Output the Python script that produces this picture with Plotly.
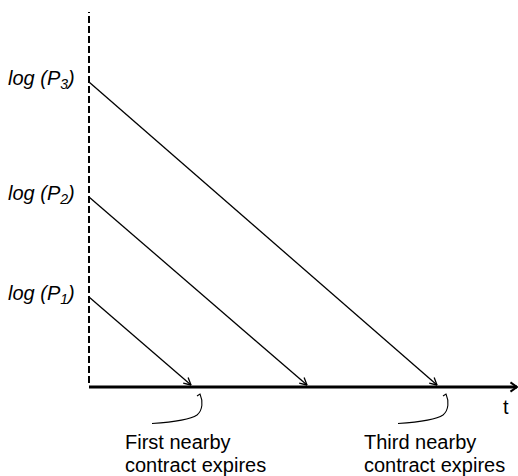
import math
import plotly.graph_objects as go

# ---- data (abstract units: time t on x, log price on y) ----
levels = [90, 190, 305]            # log(P1), log(P2), log(P3)
expiry = [102, 218, 348]           # time when each contract's line reaches the axis
labels = ["<i>log (P<sub>1</sub>)</i>", "<i>log (P<sub>2</sub>)</i>", "<i>log (P<sub>3</sub>)</i>"]
note_idx = [0, 2]
note_line1 = ["First nearby", "Third nearby"]
note_line2 = ["contract expires", "contract expires"]
t_max = 428
y_top = 375

FONT = "Liberation Sans, Arial, Helvetica, sans-serif"
note_text_shift = [-68, -75]       # layout: text left edge relative to expiry
fig = go.Figure()


def arrow_head(x0, y0, x1, y1, length, half_angle_deg):
    ang = math.atan2(y1 - y0, x1 - x0)
    xs, ys = [], []
    for s in (1, -1):
        a = ang + math.pi + s * math.radians(half_angle_deg)
        xs.append(x1 + length * math.cos(a))
        ys.append(y1 + length * math.sin(a))
    return [xs[0], x1, xs[1]], [ys[0], y1, ys[1]]


# dashed vertical axis
fig.add_trace(go.Scatter(x=[0, 0], y=[4, y_top], mode="lines",
                         line=dict(color="black", width=2, dash="7px,3px"),
                         hoverinfo="skip", showlegend=False))
# horizontal axis
fig.add_trace(go.Scatter(x=[0, t_max], y=[0, 0], mode="lines",
                         line=dict(color="black", width=3),
                         hoverinfo="skip", showlegend=False))
hx, hy = arrow_head(0, 0, t_max, 0, 8, 35)
fig.add_trace(go.Scatter(x=hx, y=hy, mode="lines",
                         line=dict(color="black", width=2),
                         hoverinfo="skip", showlegend=False))

# price lines with arrowheads
for lv, ex in zip(levels, expiry):
    fig.add_trace(go.Scatter(x=[0, ex], y=[lv, 2], mode="lines",
                             line=dict(color="black", width=1.3),
                             hoverinfo="skip", showlegend=False))
    ax, ay = arrow_head(0, lv, ex, 2, 8, 28)
    fig.add_trace(go.Scatter(x=ax, y=ay, mode="lines",
                             line=dict(color="black", width=1.3),
                             hoverinfo="skip", showlegend=False))

annotations = []
for lv, lab in zip(levels, labels):
    annotations.append(dict(x=-12, y=lv + 3, xref="x", yref="y", text=lab,
                            showarrow=False, xanchor="right", yanchor="middle",
                            font=dict(family=FONT, size=20, color="black")))

shapes = []
for k, i in enumerate(note_idx):
    x0 = expiry[i] + 9
    path = (f"M {x0-3},-9 L {x0},-7 "
            f"C {x0+3},-14 {x0+3},-23 {x0-3},-28 "
            f"C {x0-10},-33 {x0-25},-35 {x0-48},-36.5")
    shapes.append(dict(type="path", path=path, xref="x", yref="y",
                       line=dict(color="black", width=1.1)))
    left = expiry[i] + note_text_shift[k]
    annotations.append(dict(x=left, y=-55, xref="x", yref="y", text=note_line1[k],
                            showarrow=False, xanchor="left", yanchor="middle",
                            font=dict(family=FONT, size=20, color="black")))
    annotations.append(dict(x=left, y=-78, xref="x", yref="y", text=note_line2[k],
                            showarrow=False, xanchor="left", yanchor="middle",
                            font=dict(family=FONT, size=20, color="black")))

annotations.append(dict(x=417, y=-20, xref="x", yref="y", text="t",
                        showarrow=False, xanchor="center", yanchor="middle",
                        font=dict(family=FONT, size=20, color="black")))

fig.update_layout(
    width=518, height=476,
    margin=dict(l=0, r=0, t=0, b=0),
    paper_bgcolor="white", plot_bgcolor="white",
    xaxis=dict(range=[-89, 429], visible=False, fixedrange=True),
    yaxis=dict(range=[-89, 387], visible=False, fixedrange=True),
    annotations=annotations, shapes=shapes,
    showlegend=False,
)

fig.write_html("out.html", config={"displayModeBar": False},
               post_script="document.body.style.margin='0';document.body.style.overflow='hidden';")
